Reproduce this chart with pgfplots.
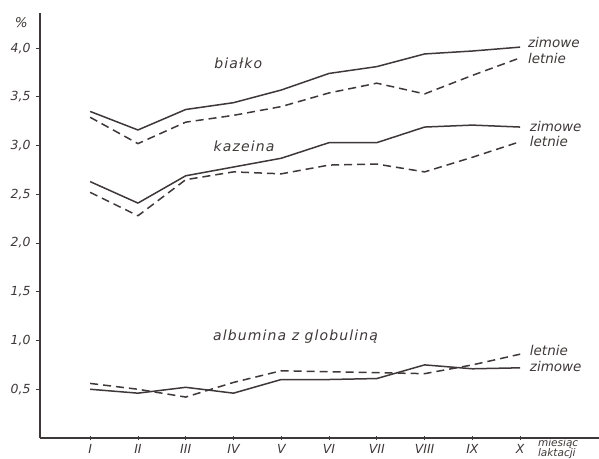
\documentclass[border=0pt]{standalone}
\usepackage{fontspec}
\setmainfont{DejaVu Sans}
\usepackage{pgfplots}
\pgfplotsset{compat=1.18}

\definecolor{ink}{HTML}{3F3838}

\begin{document}
\begin{tikzpicture}[x=1pt,y=1pt]
\begin{axis}[
  at={(0,0)}, anchor=south west,
  scale only axis, width=559pt, height=425pt,
  xmin=-0.05, xmax=11.65, ymin=0, ymax=4.36,
  axis x line=bottom, axis y line=left,
  axis line style={ink, line width=1.6pt, -},
  clip=false,
  xtick={1,...,10},
  xticklabels={I,II,III,IV,V,VI,VII,VIII,IX,X},
  ytick={0.5,1,1.5,2,2.5,3,3.5,4},
  yticklabel style={xshift=-2pt, /pgf/number format/.cd, fixed, fixed zerofill, precision=1, use comma, assume math mode=true},
  xticklabel style={yshift=-1pt},
  tick label style={font=\fontsize{12.5}{12.5}\selectfont\itshape, text=ink},
  xtick align=center, ytick align=outside,
  major tick length=4pt,
  tick style={ink, line width=0.8pt},
  every axis plot/.append style={ink, line width=1.5pt, line join=round},
]
% białko
\addplot[solid] coordinates {(1,3.35) (2,3.16) (3,3.37) (4,3.44) (5,3.57) (6,3.74) (7,3.81) (8,3.94) (9,3.97) (10,4.01)};
\addplot[dash pattern=on 8pt off 5pt] coordinates {(1,3.29) (2,3.02) (3,3.24) (4,3.31) (5,3.40) (6,3.54) (7,3.64) (8,3.53) (9,3.72) (10,3.90)};
% kazeina
\addplot[solid] coordinates {(1,2.63) (2,2.41) (3,2.69) (4,2.78) (5,2.87) (6,3.03) (7,3.03) (8,3.19) (9,3.21) (10,3.19)};
\addplot[dash pattern=on 8pt off 5pt] coordinates {(1,2.52) (2,2.28) (3,2.65) (4,2.73) (5,2.71) (6,2.80) (7,2.81) (8,2.73) (9,2.88) (10,3.04)};
% albumina z globuliną
\addplot[solid] coordinates {(1,0.50) (2,0.46) (3,0.52) (4,0.46) (5,0.60) (6,0.60) (7,0.61) (8,0.75) (9,0.71) (10,0.72)};
\addplot[dash pattern=on 8pt off 5pt] coordinates {(1,0.56) (2,0.50) (3,0.42) (4,0.57) (5,0.69) (6,0.68) (7,0.67) (8,0.66) (9,0.75) (10,0.86)};

\begin{scope}[every node/.style={text=ink, font=\fontsize{13.5}{13.5}\selectfont\itshape, inner sep=0pt}]
\begin{scope}[every node/.append style={font=\fontsize{14}{14}\selectfont\itshape\addfontfeature{LetterSpace=8}}]
\node at (axis cs:4.10,3.84) {białko};
\node at (axis cs:4.22,2.99) {kazeina};
\node[anchor=west] at (axis cs:3.57,1.04) {albumina z globuliną};
\end{scope}
\node[anchor=west] at (axis cs:10.16,4.06) {zimowe};
\node[anchor=west] at (axis cs:10.16,3.89) {letnie};
\node[anchor=west] at (axis cs:10.20,3.20) {zimowe};
\node[anchor=west] at (axis cs:10.20,3.04) {letnie};
\node[anchor=west] at (axis cs:10.20,0.90) {letnie};
\node[anchor=west] at (axis cs:10.20,0.73) {zimowe};
\node at (axis cs:-0.44,4.26) {\%};
\node[anchor=west, font=\fontsize{10.5}{10.5}\selectfont\itshape] at (axis cs:10.37,-0.055) {miesiąc};
\node[anchor=west, font=\fontsize{10.5}{10.5}\selectfont\itshape] at (axis cs:10.37,-0.155) {laktacji};
\end{scope}
\end{axis}
\pgfresetboundingbox
\path (-40pt,-20pt) rectangle (559pt,438pt);
\end{tikzpicture}
\end{document}
